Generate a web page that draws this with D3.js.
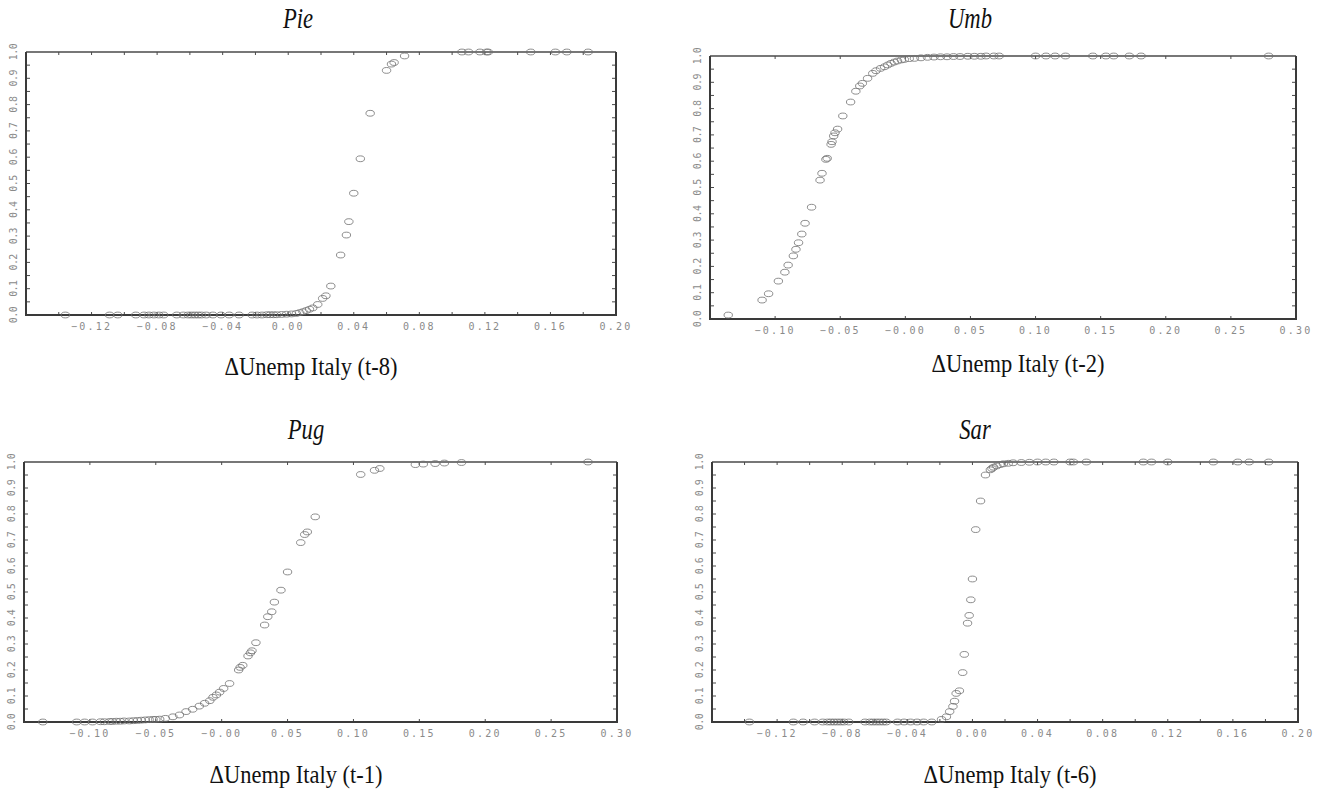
<!DOCTYPE html>
<html><head><meta charset="utf-8">
<script src="https://cdn.jsdelivr.net/npm/d3@7/dist/d3.min.js"></script>
<style>
body{margin:0;background:#fff;}
svg text{font-family:"DejaVu Sans Mono",monospace;}
</style></head>
<body><svg id="c" width="1328" height="794"></svg>
<script>
// ---------- data ----------
const titles = ["Pie", "Umb", "Pug", "Sar"];
const xTitles = ["ΔUnemp Italy (t-8)", "ΔUnemp Italy (t-2)", "ΔUnemp Italy (t-1)", "ΔUnemp Italy (t-6)"];
const yTickLabels = ["0.0","0.1","0.2","0.3","0.4","0.5","0.6","0.7","0.8","0.9","1.0"];
const xTickLabelsA = ["−0.12","−0.08","−0.04","0.00","0.04","0.08","0.12","0.16","0.20"];
const xTickLabelsB = ["−0.10","−0.05","−0.00","0.05","0.10","0.15","0.20","0.25","0.30"];

const pieX = [-0.136,-0.109,-0.104,-0.093,-0.088,-0.085,-0.082,-0.079,-0.076,-0.068,-0.064,-0.061,-0.059,-0.057,-0.055,-0.053,-0.050,-0.046,-0.041,-0.036,-0.030,-0.022,-0.019,-0.016,-0.013,-0.011,-0.009,-0.007,-0.004,-0.001,0.002,0.005,0.007,0.009,0.011,0.013,0.015,0.018,0.021,0.023,0.026,0.032,0.0355,0.037,0.040,0.044,0.050,0.060,0.063,0.0646,0.071,0.106,0.110,0.117,0.121,0.122,0.148,0.163,0.170,0.183];
const pieY = [0,0,0,0,0,0,0,0,0,0,0,0,0,0,0,0,0,0,0,0,0,0,0,0,0.001,0.001,0.001,0.001,0.002,0.003,0.004,0.006,0.009,0.0125,0.017,0.022,0.027,0.04,0.063,0.073,0.11,0.228,0.304,0.355,0.463,0.594,0.767,0.93,0.954,0.96,0.985,1,1,1,1,1,1,1,1,1];

const umbX = [-0.136,-0.110,-0.105,-0.0975,-0.0925,-0.090,-0.086,-0.084,-0.082,-0.0795,-0.077,-0.072,-0.0655,-0.064,-0.061,-0.060,-0.057,-0.0563,-0.055,-0.054,-0.052,-0.048,-0.042,-0.038,-0.035,-0.033,-0.029,-0.025,-0.0225,-0.019,-0.016,-0.0135,-0.011,-0.0085,-0.006,-0.003,-0.0008,0.003,0.007,0.012,0.017,0.022,0.027,0.032,0.037,0.042,0.048,0.053,0.058,0.062,0.068,0.072,0.100,0.108,0.115,0.123,0.144,0.154,0.160,0.172,0.181,0.279];
const umbY = [0.015,0.072,0.096,0.144,0.178,0.205,0.24,0.265,0.29,0.323,0.364,0.425,0.528,0.554,0.607,0.611,0.664,0.674,0.696,0.708,0.722,0.772,0.825,0.866,0.886,0.896,0.915,0.934,0.944,0.953,0.959,0.966,0.972,0.977,0.981,0.985,0.987,0.99,0.991,0.993,0.995,0.996,0.997,0.997,0.998,0.998,0.999,0.999,0.999,1,1,1,1,1,1,1,1,1,1,1,1,1];

const pugX = [-0.1357,-0.110,-0.104,-0.098,-0.092,-0.089,-0.085,-0.083,-0.080,-0.077,-0.074,-0.070,-0.067,-0.064,-0.061,-0.058,-0.055,-0.052,-0.050,-0.047,-0.0428,-0.037,-0.032,-0.027,-0.022,-0.017,-0.0129,-0.009,-0.0066,-0.004,-0.0015,0.0015,0.006,0.0129,0.014,0.016,0.020,0.0218,0.023,0.026,0.0326,0.035,0.038,0.040,0.045,0.050,0.060,0.063,0.065,0.071,0.1055,0.116,0.120,0.147,0.153,0.162,0.169,0.182,0.278];
const pugY = [0,0,0,0,0.001,0.001,0.002,0.002,0.003,0.003,0.004,0.004,0.005,0.006,0.007,0.008,0.009,0.010,0.010,0.011,0.014,0.02,0.027,0.04,0.049,0.061,0.072,0.082,0.095,0.104,0.115,0.129,0.148,0.2,0.21,0.218,0.254,0.266,0.274,0.305,0.373,0.405,0.424,0.461,0.507,0.577,0.69,0.721,0.731,0.789,0.952,0.968,0.975,0.99,0.992,0.994,0.996,0.998,1];

const sarX = [-0.137,-0.110,-0.104,-0.097,-0.092,-0.089,-0.087,-0.085,-0.083,-0.081,-0.079,-0.076,-0.066,-0.063,-0.061,-0.059,-0.057,-0.055,-0.053,-0.046,-0.042,-0.038,-0.034,-0.030,-0.025,-0.019,-0.016,-0.014,-0.012,-0.011,-0.010,-0.008,-0.006,-0.005,-0.003,-0.002,-0.001,0.000,0.002,0.005,0.008,0.011,0.012,0.013,0.015,0.017,0.019,0.022,0.025,0.030,0.035,0.040,0.045,0.050,0.060,0.062,0.070,0.105,0.110,0.120,0.148,0.163,0.170,0.182];
const sarY = [0,0,0,0,0,0,0,0,0,0,0,0,0,0,0,0,0,0,0,0,0,0,0,0,0,0.01,0.02,0.04,0.06,0.08,0.11,0.12,0.19,0.26,0.38,0.41,0.47,0.55,0.74,0.85,0.95,0.97,0.975,0.98,0.985,0.99,0.993,0.995,0.997,0.998,0.999,1,1,1,1,1,1,1,1,1,1,1,1,1];

const seriesX = [pieX, umbX, pugX, sarX];
const seriesY = [pieY, umbY, pugY, sarY];

// ---------- layout ----------
const layout = [
  {l:26, r:616, t:52, b:315, dom:[-0.16,0.20], step:0.02, labs:xTickLabelsA, labStart:-0.12, labStep:0.04, tx:298, ty:28, xtx:311, xty:375},
  {l:710, r:1296, t:56, b:319, dom:[-0.15,0.30], step:0.05, labs:xTickLabelsB, labStart:-0.10, labStep:0.05, tx:970, ty:28, xtx:1018, xty:372},
  {l:24, r:617, t:462, b:722, dom:[-0.15,0.30], step:0.05, labs:xTickLabelsB, labStart:-0.10, labStep:0.05, tx:306, ty:439, xtx:296, xty:783},
  {l:712, r:1298, t:462, b:722, dom:[-0.16,0.20], step:0.02, labs:xTickLabelsA, labStart:-0.12, labStep:0.04, tx:975, ty:439, xtx:1010, xty:783}
];

const svg = d3.select("#c");
const boxCol = "#4a4a4a", labCol = "#8a8a8a", ptCol = "#707070";

layout.forEach((L, i) => {
  const x = d3.scaleLinear().domain(L.dom).range([L.l, L.r]);
  const y = d3.scaleLinear().domain([0, 1]).range([L.b, L.t]);
  const g = svg.append("g");

  const nT = Math.round((L.dom[1] - L.dom[0]) / L.step);
  const xt = d3.range(1, nT).map(k => +(L.dom[0] + k * L.step).toFixed(4));
  const yt = d3.range(1, 20).map(k => k * 0.05);

  // ticks
  const tk = g.append("g").attr("stroke", boxCol).attr("stroke-width", 1);
  xt.forEach(v => {
    tk.append("line").attr("x1", x(v)).attr("x2", x(v)).attr("y1", L.b).attr("y2", L.b - 3);
    tk.append("line").attr("x1", x(v)).attr("x2", x(v)).attr("y1", L.t).attr("y2", L.t + 3);
  });
  yt.forEach(v => {
    tk.append("line").attr("x1", L.l).attr("x2", L.l + 4).attr("y1", y(v)).attr("y2", y(v));
    tk.append("line").attr("x1", L.r).attr("x2", L.r - 4).attr("y1", y(v)).attr("y2", y(v));
  });

  // box
  g.append("path")
    .attr("d", `M${L.l},${L.t}H${L.r}`).attr("stroke", boxCol).attr("stroke-width", 1.4).attr("fill","none");
  g.append("path")
    .attr("d", `M${L.l},${L.t}V${L.b}H${L.r}V${L.t}`).attr("stroke", "#3a3a3a").attr("stroke-width", 2).attr("fill","none");

  // x tick labels
  L.labs.forEach((s, k) => {
    const v = L.labStart + k * L.labStep;
    g.append("text").attr("x", x(v)).attr("y", L.b + 14.5)
      .attr("text-anchor", "middle").attr("font-size", 10).attr("letter-spacing", 2.2)
      .attr("fill", labCol).text(s);
  });
  // y tick labels (rotated)
  yTickLabels.forEach((s, k) => {
    const v = k / 10;
    g.append("text").attr("transform", `translate(${L.l - 9},${y(v)}) rotate(-90)`)
      .attr("text-anchor", "middle").attr("font-size", 10).attr("letter-spacing", -0.6)
      .attr("fill", labCol).text(s);
  });

  // points
  g.append("g").selectAll("ellipse").data(seriesX[i].map((v, k) => [v, seriesY[i][k]]))
    .join("ellipse")
    .attr("cx", d => x(d[0])).attr("cy", d => y(d[1]))
    .attr("rx", 4.2).attr("ry", 2.9)
    .attr("fill", "none").attr("stroke", ptCol).attr("stroke-width", 0.8);

  // titles (tall, narrow serif)
  g.append("text").attr("transform", `translate(${L.tx},${L.ty}) scale(0.78,1)`).attr("text-anchor", "middle")
    .style("font-family", "'Liberation Serif', serif").style("font-style", "italic")
    .attr("font-size", 29).attr("fill", "#111").text(titles[i]);
  g.append("text").attr("transform", `translate(${L.xtx},${L.xty}) scale(0.9,1)`).attr("text-anchor", "middle")
    .style("font-family", "'Liberation Serif', serif")
    .attr("font-size", 25).attr("fill", "#111").text(xTitles[i]);
});
</script></body></html>
